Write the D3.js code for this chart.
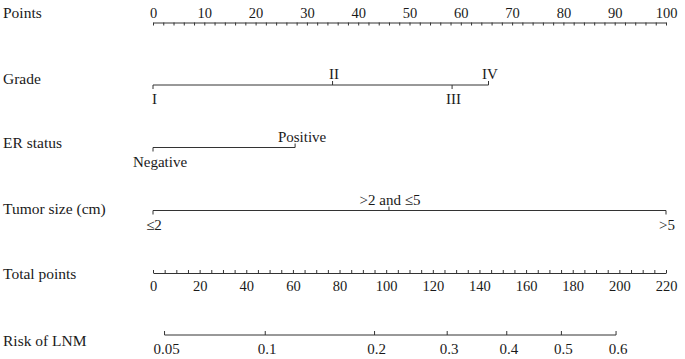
<!DOCTYPE html>
<html>
<head>
<meta charset="utf-8">
<script src="https://cdn.jsdelivr.net/npm/d3@7"></script>
<style>
  body { margin: 0; background: #fff; }
  svg text { font-family: "Liberation Serif", "Times New Roman", serif; fill: #1a1a1a; }
</style>
</head>
<body>
<div id="chart"></div>
<script>
// nomogram data
const pointTicks = d3.range(0, 101, 10);
const pointMinor = d3.range(0, 101, 2);

const gradeLevels = ["I", "II", "III", "IV"];
const gradePoints = [0, 35.0, 58.3, 65.4];
const gradeSide = ["below", "above", "below", "above"];

const erLevels = ["Negative", "Positive"];
const erPoints = [0, 27.7];
const erSide = ["below", "above"];

const sizeLevels = ["\u2264" + "2", ">2 and \u22645", ">5"];
const sizePoints = [0, 46, 100];
const sizeSide = ["below", "above", "below"];

const totalTicks = d3.range(0, 221, 20);
const totalMinor = d3.range(0, 221, 5);

const riskTicks = [0.05, 0.1, 0.2, 0.3, 0.4, 0.5, 0.6];
const riskLabels = ["0.05", "0.1", "0.2", "0.3", "0.4", "0.5", "0.6"];
// linear predictor = b0 + b1 * total points
const lpIntercept = -3.03;
const lpSlope = 0.0173;

const width = 685, height = 359;
const x0 = 153, x1 = 666;

const svg = d3.select("#chart").append("svg")
  .attr("width", width)
  .attr("height", height);

const xPts = d3.scaleLinear().domain([0, 100]).range([x0, x1]);
const xTot = d3.scaleLinear().domain([0, 220]).range([x0, x1]);
const logit = (p) => Math.log(p / (1 - p));
const xRisk = (p) => xTot((logit(p) - lpIntercept) / lpSlope);

const lineColor = "#333";

function rowLabel(text, y) {
  svg.append("text")
    .attr("x", 3)
    .attr("y", y)
    .style("font-size", "15.5px")
    .text(text);
}

// Points
rowLabel("Points", 18);
const gPts = svg.append("g").attr("transform", "translate(0,22.5)");
gPts.call(d3.axisBottom(xPts).tickValues(pointMinor).tickSize(3).tickSizeOuter(0).tickFormat(""));
gPts.append("g").call(d3.axisTop(xPts).tickValues(pointTicks).tickSize(0).tickFormat(d3.format("d")))
  .call((g) => g.select(".domain").remove())
  .selectAll("text").attr("dy", "-0.1em");
gPts.selectAll("text").style("font-size", "14.5px").attr("font-family", null);
gPts.selectAll("path, line").attr("stroke", lineColor);

// categorical rows
function catRow(label, levels, pts, side, y, labelY, dx) {
  rowLabel(label, labelY);
  const g = svg.append("g").attr("transform", `translate(0,${y})`);
  g.append("line")
    .attr("x1", xPts(d3.min(pts)))
    .attr("x2", xPts(d3.max(pts)))
    .attr("stroke", lineColor);
  levels.forEach((lev, i) => {
    const xx = xPts(pts[i]);
    const up = side[i] === "above";
    g.append("line")
      .attr("x1", xx).attr("x2", xx)
      .attr("y1", 0).attr("y2", up ? -4 : 4)
      .attr("stroke", lineColor);
    g.append("text")
      .attr("x", xx + (dx || 0))
      .attr("y", up ? -6 : 19)
      .attr("text-anchor", "middle")
      .style("font-size", "15px")
      .text(lev);
  });
}

catRow("Grade", gradeLevels, gradePoints, gradeSide, 85, 84, 1.5);
catRow("ER status", erLevels, erPoints, erSide, 147.5, 148, 7);
catRow("Tumor size (cm)", sizeLevels, sizePoints, sizeSide, 210.5, 214, 1);

// Total points
rowLabel("Total points", 279);
const gTot = svg.append("g").attr("transform", "translate(0,273)");
gTot.call(d3.axisTop(xTot).tickValues(totalMinor).tickSize(3).tickSizeOuter(0).tickFormat(""));
gTot.append("g").call(d3.axisBottom(xTot).tickValues(totalTicks).tickSize(0).tickFormat(d3.format("d")))
  .call((g) => g.select(".domain").remove())
  .selectAll("text").attr("dy", "1.0em");
gTot.selectAll("text").style("font-size", "14.5px").attr("font-family", null);
gTot.selectAll("path, line").attr("stroke", lineColor);

// Risk of LNM
rowLabel("Risk of LNM", 346);
const gRisk = svg.append("g").attr("transform", "translate(0,335)");
gRisk.append("line")
  .attr("x1", xRisk(riskTicks[0]))
  .attr("x2", xRisk(riskTicks[riskTicks.length - 1]))
  .attr("stroke", lineColor);
riskTicks.forEach((p, i) => {
  gRisk.append("line")
    .attr("x1", xRisk(p)).attr("x2", xRisk(p))
    .attr("y1", 0).attr("y2", -4)
    .attr("stroke", lineColor);
  gRisk.append("text")
    .attr("x", xRisk(p) + 2)
    .attr("y", 18.5)
    .attr("text-anchor", "middle")
    .style("font-size", "15px")
    .text(riskLabels[i]);
});
</script>
</body>
</html>
